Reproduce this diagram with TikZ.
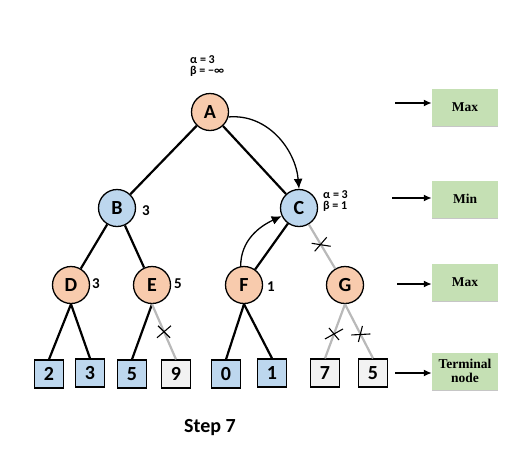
\documentclass[tikz,border=0pt]{standalone}
\usepackage{fontspec}
\setmainfont{Carlito}
\newfontfamily\lvlfont{Liberation Serif}
\usetikzlibrary{arrows.meta,shadows}
\definecolor{maxc}{HTML}{F8CBAD}
\definecolor{minc}{HTML}{BDD7EE}
\definecolor{cutc}{HTML}{F2F2F2}
\definecolor{lvlc}{HTML}{C5E0B4}
\begin{document}
\begin{tikzpicture}[x=1pt,y=-1pt,
    maxnode/.style={circle,draw,line width=1.3pt,fill=maxc,minimum size=37pt,inner sep=0pt,font=\fontsize{20}{20}\selectfont\bfseries},
    minnode/.style={maxnode,fill=minc},
    leaf/.style={draw,line width=1.3pt,fill=minc,minimum width=29pt,minimum height=28pt,inner sep=0pt,font=\fontsize{20}{20}\selectfont\bfseries},
    pruned/.style={leaf,fill=cutc},
    lvl/.style={fill=lvlc,minimum width=66pt,minimum height=37pt,inner sep=1pt,align=center,drop shadow={shadow xshift=0pt,shadow yshift=-1.2pt,opacity=.45},font=\lvlfont\fontsize{13.5}{14}\selectfont\bfseries},
    val/.style={font=\fontsize{15}{15}\selectfont\bfseries},
    ab/.style={align=left,inner sep=0pt,font=\fontsize{12}{11}\selectfont\bfseries},
    edge/.style={line width=2.2pt},
    cut/.style={line width=2.2pt,gray!55},
    xmark/.style={line width=1.1pt},
    tip/.style={-{Latex[length=10pt,width=9pt]},line width=1.3pt}]
    \useasboundingbox (0,0) rectangle (518,469);

    % tree
    \node[maxnode] (A) at (210,112) {A};
    \node[minnode] (B) at (117,208) {B};
    \node[minnode] (C) at (299,208) {C};
    \node[maxnode] (D) at (71,285) {D};
    \node[maxnode] (E) at (152,285) {E};
    \node[maxnode] (F) at (244,285) {F};
    \node[maxnode] (G) at (345,285) {G};

    \node[leaf]   (L1) at (49,374)  {2};
    \node[leaf]   (L2) at (90,373)  {3};
    \node[leaf]   (L3) at (132,374) {5};
    \node[pruned] (L4) at (176,374) {9};
    \node[leaf]   (L5) at (226,374) {0};
    \node[leaf]   (L6) at (272,373) {1};
    \node[pruned] (L7) at (325,373) {7};
    \node[pruned] (L8) at (373,373) {5};

    \draw[edge] (A) -- (B);
    \draw[edge] (A) -- (C);
    \draw[edge] (B) -- (D);
    \draw[edge] (B) -- (E);
    \draw[edge] (C) -- (F);
    \draw[cut]  (C) -- coordinate[pos=.45] (xCG) (G);
    \draw[edge] (D.south) -- (L1.north);
    \draw[edge] (D.south) -- (L2.north);
    \draw[edge] (E.south) -- (L3.north);
    \draw[cut]  (E.south) -- coordinate[pos=.5] (xE) (L4.north);
    \draw[edge] (F.south) -- (L5.north);
    \draw[edge] (F.south) -- (L6.north);
    \draw[cut]  (G.south) -- coordinate[pos=.55] (xG1) (L7.north);
    \draw[cut]  (G.south) -- coordinate[pos=.55] (xG2) (L8.north);

    % pruning marks
    \draw[xmark] ([shift={(-6,7)}]xCG) -- ([shift={(6,-7)}]xCG);
    \draw[xmark] ([shift={(-9,-1)}]xCG) -- ([shift={(10,2)}]xCG);
    \draw[xmark] ([shift={(-7,6)}]xE) -- ([shift={(7,-6)}]xE);
    \draw[xmark] ([shift={(-6,-6)}]xE) -- ([shift={(6,6)}]xE);
    \draw[xmark] ([shift={(-9,5)}]xG1) -- ([shift={(9,-5)}]xG1);
    \draw[xmark] ([shift={(-5,-6)}]xG1) -- ([shift={(5,6)}]xG1);
    \draw[xmark] ([shift={(-9,1)}]xG2) -- ([shift={(10,0)}]xG2);
    \draw[xmark] ([shift={(2,-8)}]xG2) -- ([shift={(-2,8)}]xG2);

    % values
    \node[val] (vB) at (146,211) {3};
    \node[val] (vD) at (96,284)  {3};
    \node[val] (vE) at (178,284) {5};
    \node[val] (vF) at (271,287) {1};
    \node[ab,anchor=west] (abA) at (190,66) {α = 3\\β = −∞};
    \node[ab,anchor=west] (abC) at (323,201) {α = 3\\β = 1};

    % value passing
    \draw[tip] (A.-15) to[out=5,in=95] (C.north);
    \draw[tip] (F.100) to[out=90,in=205] (C.205);

    % levels
    \node[lvl] (M1) at (465,107) {Max};
    \node[lvl] (M2) at (465,199) {Min};
    \node[lvl] (M3) at (465,282) {Max};
    \node[lvl] (M4) at (465,371) {Terminal\\node};
    \coordinate (s1) at (395,103);
    \coordinate (s2) at (392,198);
    \coordinate (s3) at (397,284);
    \coordinate (s4) at (395,373);
    \draw[-{Latex[length=8pt,width=7pt]},line width=1.8pt] (s1) -- (M1.west|-s1);
    \draw[-{Latex[length=8pt,width=7pt]},line width=1.8pt] (s2) -- (M2.west|-s2);
    \draw[-{Latex[length=8pt,width=7pt]},line width=1.8pt] (s3) -- (M3.west|-s3);
    \draw[-{Latex[length=8pt,width=7pt]},line width=1.8pt] (s4) -- (M4.west|-s4);

    \node[font=\fontsize{20}{20}\selectfont\bfseries] (step) at (210,428) {Step 7};
\end{tikzpicture}
\end{document}
